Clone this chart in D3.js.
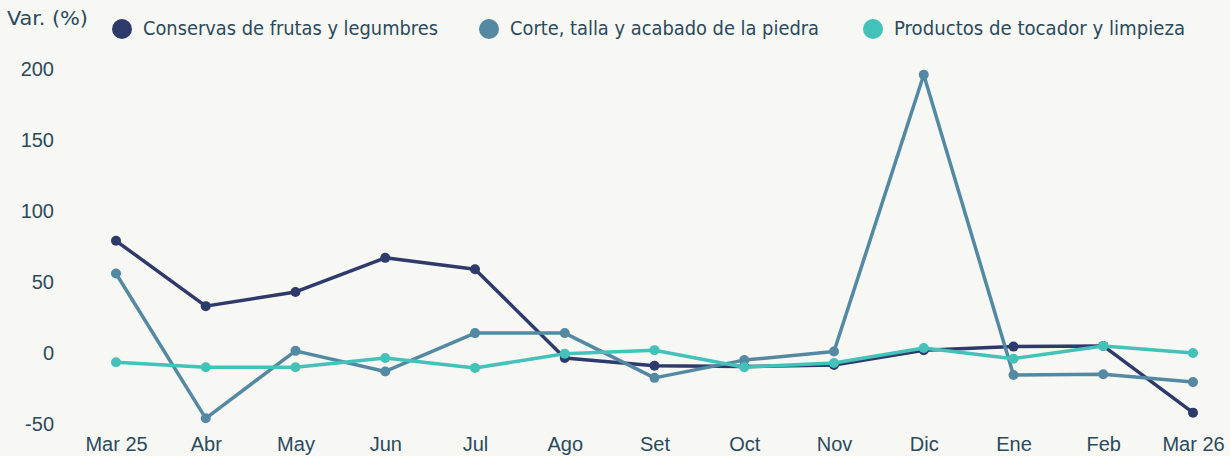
<!DOCTYPE html>
<html>
<head>
<meta charset="utf-8">
<script src="https://cdn.jsdelivr.net/npm/d3@7"></script>
<style>
  body { margin: 0; background: #f7f7f3; }
  svg { display: block; font-family: "Liberation Sans Narrow", "DejaVu Sans Condensed", "Roboto", sans-serif; }
</style>
</head>
<body>
<svg width="1230" height="456"></svg>
<script>
// data
var months = ['Mar 25', 'Abr', 'May', 'Jun', 'Jul', 'Ago', 'Set', 'Oct', 'Nov', 'Dic', 'Ene', 'Feb', 'Mar 26'];
var seriesNames = ['Conservas de frutas y legumbres', 'Corte, talla y acabado de la piedra', 'Productos de tocador y limpieza'];
var conservas = [79, 33, 43, 67, 59, -3.5, -9, -9.5, -8.5, 2, 4.5, 5, -42];
var corte = [56, -46, 1.5, -13, 14, 14, -17.5, -5, 1, 196, -15.5, -15, -20.5];
var productos = [-6.5, -10, -10, -3.5, -10.5, -0.5, 2, -10, -7, 3.5, -4, 5, 0];
var yTicks = [-50, 0, 50, 100, 150, 200];
var colors = ['#2e3a6a', '#5389a2', '#43c2b9'];

var svg = d3.select('svg'),
  margin = {top: 69, right: 37, bottom: 32, left: 116},
  width = +svg.attr('width') - margin.left - margin.right,
  height = +svg.attr('height') - margin.top - margin.bottom;

var textColor = '#2b4a5c';

var x = d3.scalePoint().domain(months).range([margin.left, margin.left + width]);
var y = d3.scaleLinear().domain([-50, 200]).range([margin.top + height, margin.top]);

// y axis labels (no line), plain hyphen for negatives
var yAxis = svg.append('g')
  .attr('transform', 'translate(54,0)')
  .call(d3.axisLeft(y).tickValues(yTicks).tickSize(0).tickPadding(0)
    .tickFormat(function(d) { return String(d); }));
yAxis.select('.domain').remove();
yAxis.selectAll('text')
  .attr('fill', textColor)
  .style('font-size', '20px')
  .attr('font-family', null);

// x axis labels
var xAxis = svg.append('g')
  .attr('transform', 'translate(0,' + (margin.top + height) + ')')
  .call(d3.axisBottom(x).tickSize(0).tickPadding(13));
xAxis.select('.domain').remove();
xAxis.selectAll('text')
  .attr('fill', textColor)
  .style('font-size', '20px')
  .attr('font-family', null);

// lines
var data = [conservas, corte, productos];
var line = d3.line()
  .x(function(d, i) { return x(months[i]); })
  .y(function(d) { return y(d); });

data.forEach(function(vals, k) {
  var g = svg.append('g');
  g.append('path')
    .datum(vals)
    .attr('fill', 'none')
    .attr('stroke', colors[k])
    .attr('stroke-width', 3.5)
    .attr('stroke-linejoin', 'round')
    .attr('d', line);
  g.selectAll('circle')
    .data(vals)
    .enter()
    .append('circle')
    .attr('cx', function(d, i) { return x(months[i]); })
    .attr('cy', function(d) { return y(d); })
    .attr('r', 5)
    .attr('fill', colors[k]);
});

// title
svg.append('text')
  .attr('x', 7)
  .attr('y', 25)
  .attr('fill', textColor)
  .style('font-size', '20px')
  .attr('textLength', 81)
  .attr('lengthAdjust', 'spacingAndGlyphs')
  .text('Var. (%)');

// legend
var legendX = [122, 489, 873];
var legendW = [295, 309, 291];
var legend = svg.selectAll('.legend')
  .data(seriesNames)
  .enter()
  .append('g')
  .attr('class', 'legend');

legend.append('circle')
  .attr('cx', function(d, i) { return legendX[i]; })
  .attr('cy', 29)
  .attr('r', 10)
  .attr('fill', function(d, i) { return colors[i]; });

legend.append('text')
  .attr('x', function(d, i) { return legendX[i] + 21; })
  .attr('y', 35)
  .attr('fill', textColor)
  .style('font-size', '20px')
  .attr('textLength', function(d, i) { return legendW[i]; })
  .attr('lengthAdjust', 'spacingAndGlyphs')
  .text(function(d) { return d; });
</script>
</body>
</html>
